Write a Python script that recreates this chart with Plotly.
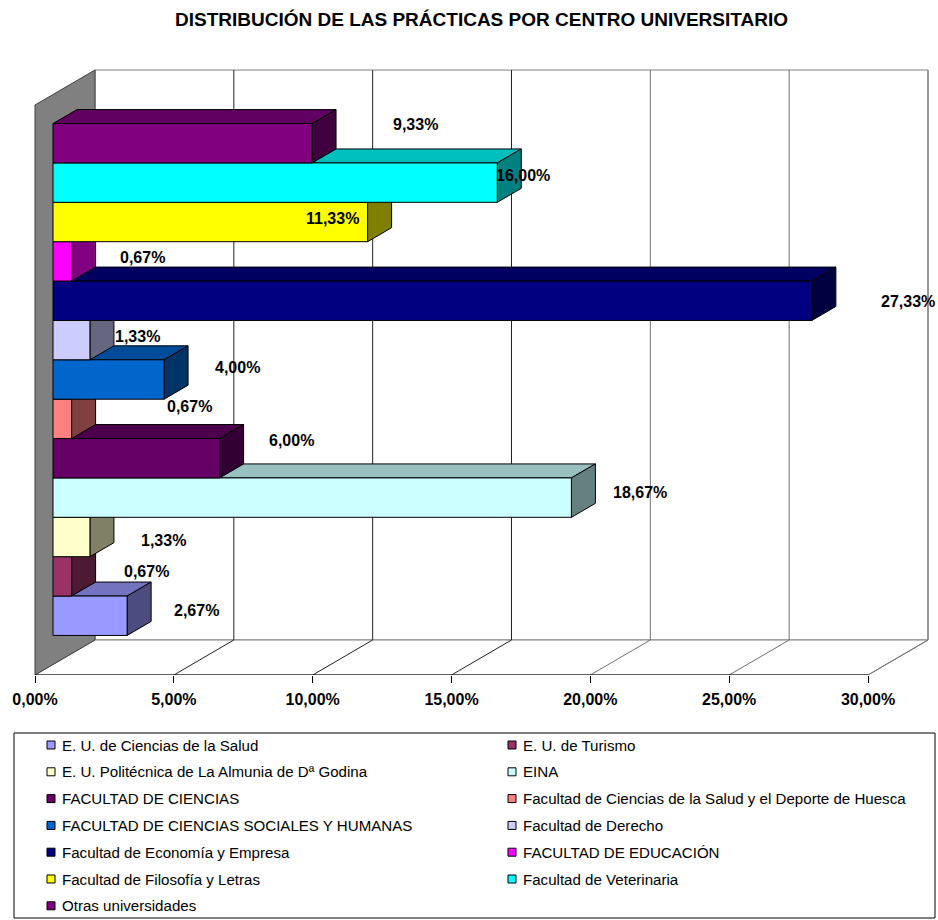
import plotly.graph_objects as go

# ---- data -------------------------------------------------------------
centros = [
    "E. U. de Ciencias de la Salud",
    "E. U. de Turismo",
    "E. U. Politécnica de La Almunia de Dª Godina",
    "EINA",
    "FACULTAD DE CIENCIAS",
    "Facultad de Ciencias de la Salud y el Deporte de Huesca",
    "FACULTAD DE CIENCIAS SOCIALES Y HUMANAS",
    "Facultad de Derecho",
    "Facultad de Economía y Empresa",
    "FACULTAD DE EDUCACIÓN",
    "Facultad de Filosofía y Letras",
    "Facultad de Veterinaria",
    "Otras universidades",
]
porcentajes = [2.67, 0.67, 1.33, 18.67, 6.00, 0.67, 4.00, 1.33, 27.33, 0.67, 11.33, 16.00, 9.33]
colores = [
    "#9999FF", "#993366", "#FFFFCC", "#CCFFFF", "#660066", "#FF8080", "#0066CC",
    "#CCCCFF", "#000080", "#FF00FF", "#FFFF00", "#00FFFF", "#800080",
]
tick_vals = [0, 5, 10, 15, 20, 25, 30]
tick_text = ["0,00%", "5,00%", "10,00%", "15,00%", "20,00%", "25,00%", "30,00%"]

# ---- layout / projection constants -----------------------------------
W, H = 938, 920
FONT = "Liberation Sans, Arial, sans-serif"
X_MAX = 30
N = len(centros)
ORIGIN_X, ORIGIN_Y = 35, 675          # front-floor corner, pixels from top-left
PX_PER_PCT = 833 / X_MAX
PX_PER_SLOT = 570 / N
DX = 60 / PX_PER_PCT                   # depth shift expressed in axis units
DY = 35 / PX_PER_SLOT
BAR_T = 0.898
EDGE = (N - N * BAR_T) / 2
D0, D1 = 0.3, 0.7                      # bar front / back depth

# label offsets (px) from the bar's front-right edge midpoint
label_offsets = [(69, -5), (75, -5), (74, 3), (69, -5), (72, -18), (118, -12), (73, -12),
                 (48, -4), (96, 1), (71, -4), (-35, -4), (26, -7), (103, -19)]


def P(v, s, d):
    """Project (value, slot, depth) onto the 2-D axes."""
    return v + d * DX, s + d * DY


def shade(hex_color, f):
    h = hex_color.lstrip("#")
    r, g, b = (int(h[i:i + 2], 16) for i in (0, 2, 4))
    return "#{:02X}{:02X}{:02X}".format(round(r * f), round(g * f), round(b * f))


def poly(pts):
    xs = [p[0] for p in pts] + [pts[0][0]]
    ys = [p[1] for p in pts] + [pts[0][1]]
    return xs, ys


def path(pts, close=True):
    s = "M " + " L ".join(f"{x},{y}" for x, y in pts)
    return s + (" Z" if close else "")


fig = go.Figure()
shapes = []

# walls and floor
shapes.append(dict(type="path", xref="x", yref="y", layer="below",
                   path=path([P(0, 0, 1), P(X_MAX, 0, 1), P(X_MAX, N, 1), P(0, N, 1)]),
                   fillcolor="white", line=dict(color="#808080", width=1)))
shapes.append(dict(type="path", xref="x", yref="y", layer="below",
                   path=path([P(0, 0, 0), P(X_MAX, 0, 0), P(X_MAX, 0, 1), P(0, 0, 1)]),
                   fillcolor="white", line=dict(color="#808080", width=1)))
shapes.append(dict(type="path", xref="x", yref="y", layer="below",
                   path=path([P(0, 0, 0), P(0, 0, 1), P(0, N, 1), P(0, N, 0)]),
                   fillcolor="#808080", line=dict(color="#404040", width=1)))
# gridlines: floor diagonal + back-wall vertical
for v in tick_vals[1:]:
    col = "#222222" if v <= 15 else "#707070"
    shapes.append(dict(type="path", xref="x", yref="y", layer="below",
                       path=path([P(v, 0, 0), P(v, 0, 1), P(v, N, 1)], close=False),
                       line=dict(color=col, width=1)))
# front floor edge (category axis line)
x0, y0 = P(0, 0, 0)
x1, _ = P(X_MAX, 0, 0)
shapes.append(dict(type="line", xref="x", yref="y", layer="below",
                   x0=x0, y0=y0, x1=x1, y1=y0, line=dict(color="black", width=1)))

# 3-D bars, drawn bottom to top so upper bars hide the lower tops
for i, (v, c) in enumerate(zip(porcentajes, colores)):
    s0 = EDGE + i * BAR_T
    s1 = s0 + BAR_T
    faces = [
        ([P(0, s1, D0), P(v, s1, D0), P(v, s1, D1), P(0, s1, D1)], shade(c, 0.75)),
        ([P(v, s0, D0), P(v, s0, D1), P(v, s1, D1), P(v, s1, D0)], shade(c, 0.5)),
        ([P(0, s0, D0), P(v, s0, D0), P(v, s1, D0), P(0, s1, D0)], c),
    ]
    for pts, fc in faces:
        xs, ys = poly(pts)
        fig.add_trace(go.Scatter(x=xs, y=ys, mode="lines", fill="toself",
                                 fillcolor=fc, line=dict(color="black", width=1),
                                 showlegend=False, hoverinfo="skip"))

annotations = []
for i, v in enumerate(porcentajes):
    s_mid = EDGE + i * BAR_T + BAR_T / 2
    ax, ay = P(v, s_mid, D0)
    dx, dy = label_offsets[i]
    annotations.append(dict(x=ax, y=ay, xref="x", yref="y", showarrow=False,
                            text=f"{v:.2f}".replace(".", ",") + "%",
                            xshift=dx, yshift=-dy,
                            font=dict(family=FONT, size=16, color="black", weight="bold")))

# title
annotations.append(dict(x=482 / W, y=1 - 20 / H, xref="paper", yref="paper",
                        xanchor="center", yanchor="middle", showarrow=False,
                        text="DISTRIBUCIÓN DE LAS PRÁCTICAS POR CENTRO UNIVERSITARIO",
                        font=dict(family=FONT, size=19, color="black", weight="bold")))

# legend box, two columns
shapes.append(dict(type="rect", xref="paper", yref="paper",
                   x0=14 / W, x1=935 / W, y0=1 - 918 / H, y1=1 - 733 / H,
                   fillcolor="white", line=dict(color="black", width=1)))
col_sq = [47, 508]
row0, row_step, sq = 745, 26.8, 8
for k, (name, c) in enumerate(zip(centros, colores)):
    r, cidx = divmod(k, 2)
    yc = row0 + r * row_step
    xs = col_sq[cidx]
    shapes.append(dict(type="rect", xref="paper", yref="paper",
                       x0=xs / W, x1=(xs + sq) / W,
                       y0=1 - (yc + sq / 2) / H, y1=1 - (yc - sq / 2) / H,
                       fillcolor=c, line=dict(color="black", width=1)))
    annotations.append(dict(x=(xs + sq + 5) / W, y=1 - yc / H, xref="paper", yref="paper",
                            xanchor="left", yanchor="middle", showarrow=False, text=name,
                            font=dict(family=FONT, size=15.1, color="black")))

fig.update_layout(
    width=W, height=H,
    margin=dict(l=0, r=0, t=0, b=0),
    paper_bgcolor="white", plot_bgcolor="rgba(0,0,0,0)",
    showlegend=False,
    shapes=shapes, annotations=annotations,
    xaxis=dict(domain=[0, 1],
               range=[-ORIGIN_X / PX_PER_PCT, (W - ORIGIN_X) / PX_PER_PCT],
               tickvals=tick_vals, ticktext=tick_text,
               ticks="outside", ticklen=7, tickcolor="black", tickwidth=1,
               ticklabelstandoff=3,
               showgrid=False, zeroline=False, showline=False, automargin=False,
               tickfont=dict(family=FONT, size=16, color="black", weight="bold"),
               fixedrange=True),
    yaxis=dict(domain=[(H - ORIGIN_Y) / H, 1],
               range=[0, ORIGIN_Y / PX_PER_SLOT],
               showticklabels=False, ticks="", showgrid=False, zeroline=False,
               showline=False, automargin=False, fixedrange=True),
)

fig.write_html("out.html")
